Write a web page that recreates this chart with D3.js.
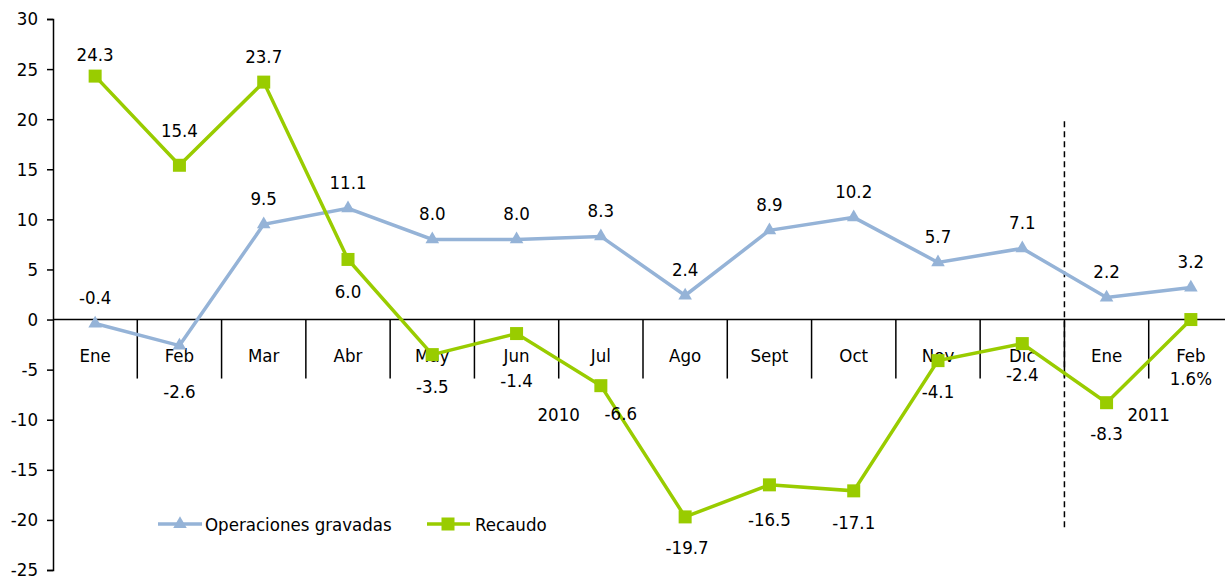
<!DOCTYPE html>
<html>
<head>
<meta charset="utf-8">
<script src="https://cdn.jsdelivr.net/npm/d3@7"></script>
<style>
  body { margin: 0; background: #fff; }
  svg text { font-family: "DejaVu Sans Condensed", "DejaVu Sans", sans-serif; font-size: 18.5px; fill: #000; }
</style>
</head>
<body>
<svg id="chart" width="1225" height="580"></svg>
<script>
// data
const meses = ["Ene", "Feb", "Mar", "Abr", "May", "Jun", "Jul", "Ago", "Sept", "Oct", "Nov", "Dic", "Ene", "Feb"];
const operaciones = [-0.4, -2.6, 9.5, 11.1, 8.0, 8.0, 8.3, 2.4, 8.9, 10.2, 5.7, 7.1, 2.2, 3.2];
const recaudo = [24.3, 15.4, 23.7, 6.0, -3.5, -1.4, -6.6, -19.7, -16.5, -17.1, -4.1, -2.4, -8.3, 0.0];
const recaudoLabels = ["24.3", "15.4", "23.7", "6.0", "-3.5", "-1.4", "-6.6", "-19.7", "-16.5", "-17.1", "-4.1", "-2.4", "-8.3", "1.6%"];
const yTicks = [30, 25, 20, 15, 10, 5, 0, -5, -10, -15, -20, -25];
const years = [{ text: "2010", at: 6 }, { text: "2011", at: 13 }];

// label nudges (px), like the hand-placed labels in the original
const opDy = [-26, 46, -26, -26, -26, -26, -26, -26, -26, -26, -26, -26, -26, -26];
const reDy = [-22, -35, -26, 32, 32, 47, 28, 31, 35, 32, 31, 31, 31, 59];
const reDx = [0, 0, 0, 0, 0, 0, 20, 2, 0, 0, 0, 0, 0, 0];

const BLUE = "#95b3d7", GREEN = "#99cc00";

var loc = d3.formatLocale({ decimal: ".", thousands: ",", grouping: [3], currency: ["", ""], minus: "-" });
var f1 = loc.format(".1f"), f0 = loc.format("d");

var svg = d3.select("#chart");

var x = d3.scaleBand().domain(d3.range(meses.length)).range([53, 1233]);
var y = d3.scaleLinear().domain([-25, 30]).range([570, 19]);
var cx = function (i) { return x(i) + x.bandwidth() / 2; };

// y axis
var yAxis = svg.append("g").attr("transform", "translate(53,0)")
  .call(d3.axisLeft(y).tickValues(yTicks).tickSize(6).tickPadding(9).tickFormat(f0));
yAxis.attr("font-size", null).attr("font-family", null);
yAxis.select(".domain").attr("stroke", "#000").attr("stroke-width", 1.5);
yAxis.selectAll(".tick line").attr("stroke", "#000").attr("stroke-width", 1.5);

// category axis on zero line, with long separators going down
var cat = svg.append("g");
cat.append("line")
  .attr("x1", 53).attr("x2", 1225)
  .attr("y1", y(0)).attr("y2", y(0))
  .attr("stroke", "#000").attr("stroke-width", 1.5);
cat.selectAll(".sep").data(d3.range(1, meses.length)).enter().append("line")
  .attr("x1", function (i) { return x(i); }).attr("x2", function (i) { return x(i); })
  .attr("y1", y(0)).attr("y2", y(0) + 59)
  .attr("stroke", "#000").attr("stroke-width", 1.5);
cat.selectAll(".mes").data(meses).enter().append("text")
  .attr("x", function (d, i) { return cx(i); })
  .attr("y", y(0) + 36)
  .attr("text-anchor", "middle")
  .attr("dominant-baseline", "central")
  .text(function (d) { return d; });

// year labels
svg.selectAll(".year").data(years).enter().append("text")
  .attr("x", function (d) { return x(d.at); })
  .attr("y", y(0) + 95)
  .attr("text-anchor", "middle")
  .attr("dominant-baseline", "central")
  .text(function (d) { return d.text; });

// dashed separator between 2010 and 2011
svg.append("line")
  .attr("x1", x(12)).attr("x2", x(12))
  .attr("y1", y(19.8)).attr("y2", y(-20.8))
  .attr("stroke", "#000").attr("stroke-width", 1.5)
  .attr("stroke-dasharray", "6,4");

var line = function (vals) {
  return d3.line().x(function (d, i) { return cx(i); }).y(function (d) { return y(d); })(vals);
};

// Operaciones gravadas
svg.append("path").attr("d", line(operaciones))
  .attr("fill", "none").attr("stroke", BLUE).attr("stroke-width", 3.5);
var tri = d3.symbol().type(d3.symbolTriangle).size(80);
svg.selectAll(".tri").data(operaciones).enter().append("path")
  .attr("d", tri)
  .attr("transform", function (d, i) { return "translate(" + cx(i) + "," + y(d) + ")"; })
  .attr("fill", BLUE);

// Recaudo
svg.append("path").attr("d", line(recaudo))
  .attr("fill", "none").attr("stroke", GREEN).attr("stroke-width", 3.5);
svg.selectAll(".sq").data(recaudo).enter().append("rect")
  .attr("x", function (d, i) { return cx(i) - 6.5; })
  .attr("y", function (d) { return y(d) - 6.5; })
  .attr("width", 13).attr("height", 13)
  .attr("fill", GREEN);

// data labels
svg.selectAll(".lop").data(operaciones).enter().append("text")
  .attr("x", function (d, i) { return cx(i); })
  .attr("y", function (d, i) { return y(d) + opDy[i]; })
  .attr("text-anchor", "middle")
  .attr("dominant-baseline", "central")
  .text(function (d) { return f1(d); });
svg.selectAll(".lre").data(recaudo).enter().append("text")
  .attr("x", function (d, i) { return cx(i) + reDx[i]; })
  .attr("y", function (d, i) { return y(d) + reDy[i]; })
  .attr("text-anchor", "middle")
  .attr("dominant-baseline", "central")
  .text(function (d, i) { return recaudoLabels[i]; });

// legend
var leg = svg.append("g").attr("transform", "translate(0,524)");
leg.append("line").attr("x1", 158).attr("x2", 202).attr("stroke", BLUE).attr("stroke-width", 3.5);
leg.append("path").attr("d", tri).attr("transform", "translate(180,0)").attr("fill", BLUE);
leg.append("text").attr("x", 205).attr("dominant-baseline", "central").text("Operaciones gravadas");
leg.append("line").attr("x1", 427).attr("x2", 470).attr("stroke", GREEN).attr("stroke-width", 3.5);
leg.append("rect").attr("x", 441.5).attr("y", -6.5).attr("width", 13).attr("height", 13).attr("fill", GREEN);
leg.append("text").attr("x", 475).attr("dominant-baseline", "central").text("Recaudo");
</script>
</body>
</html>
